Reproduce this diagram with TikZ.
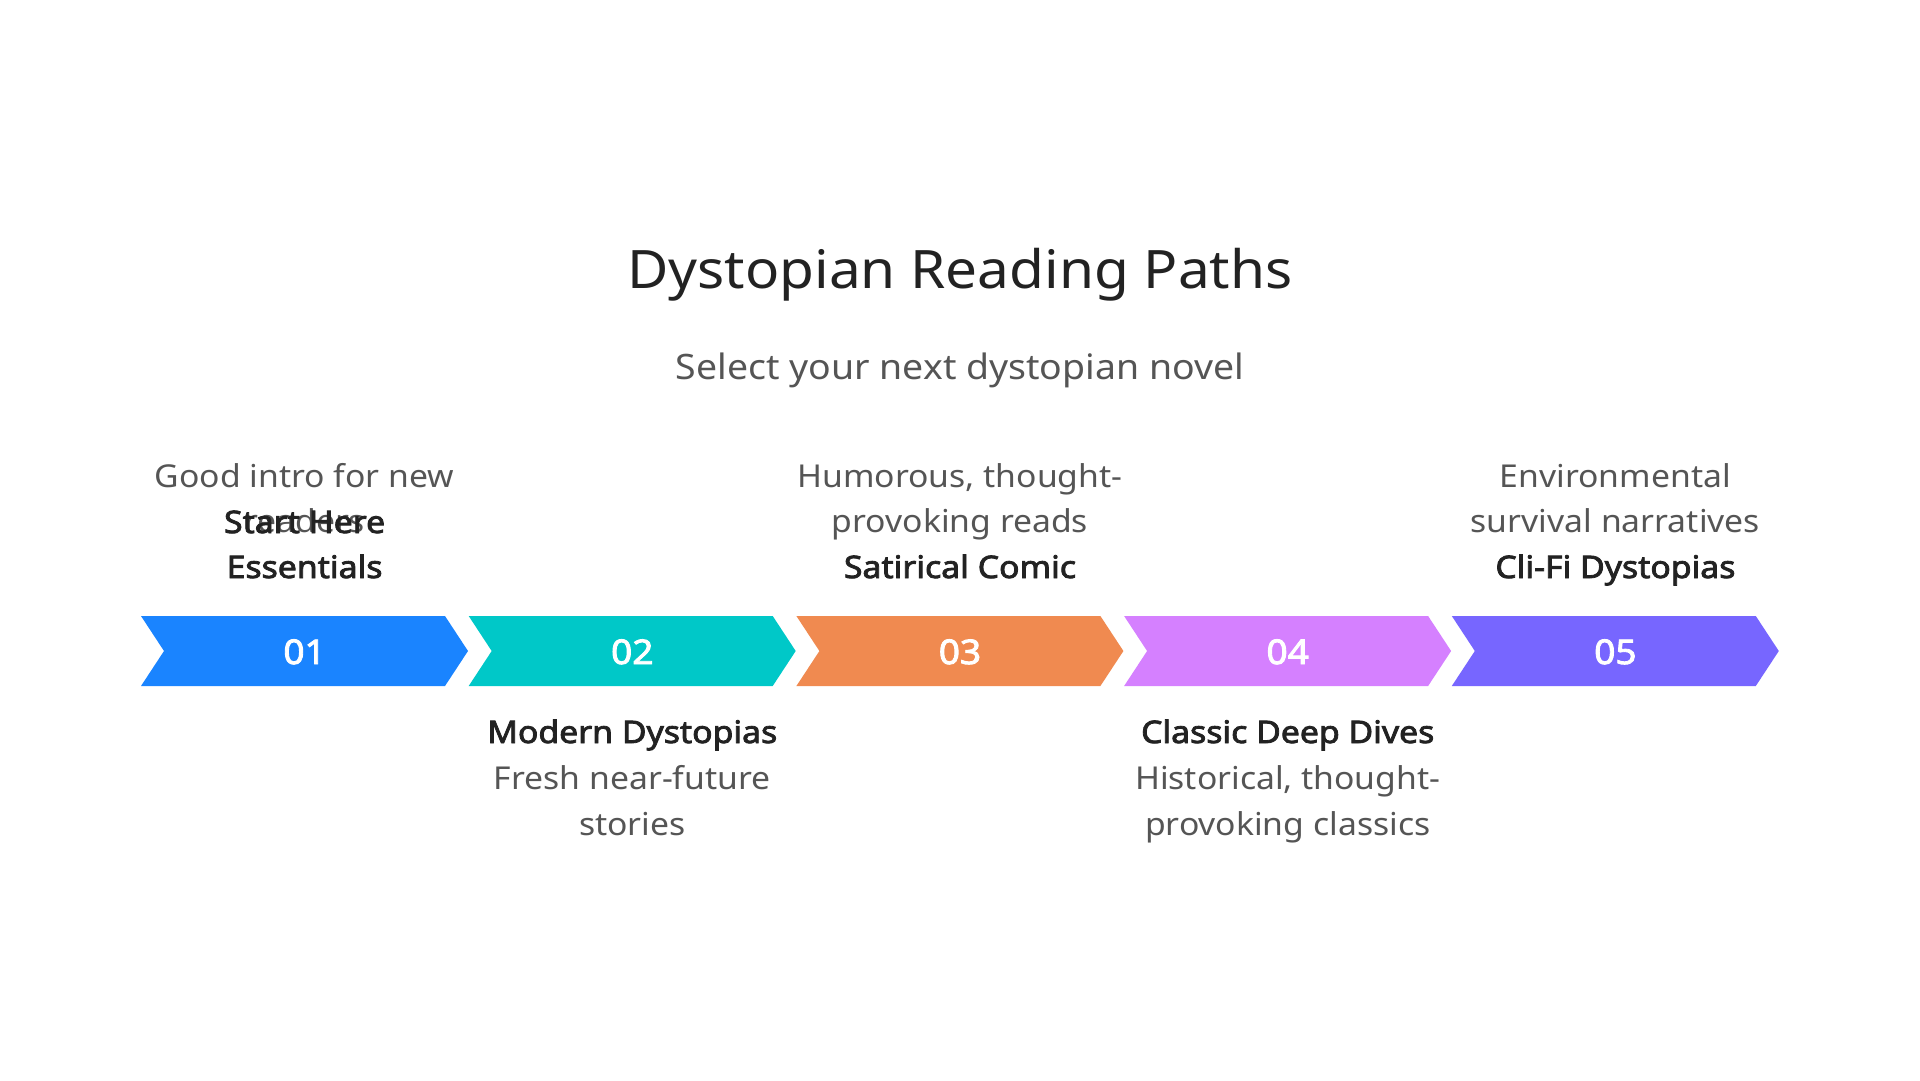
\documentclass[tikz,border=0pt]{standalone}
\usepackage{fontspec}
\setmainfont{Noto Sans}[FakeStretch=1.07]
\newfontfamily\boldface{Noto Sans}[FakeBold=2.6, FakeStretch=1.09]
\definecolor{cA}{HTML}{1A84FF}
\definecolor{cB}{HTML}{00C8C8}
\definecolor{cC}{HTML}{F08A50}
\definecolor{cD}{HTML}{D580FF}
\definecolor{cE}{HTML}{7766FF}
\definecolor{ink}{HTML}{222222}
\definecolor{soft}{HTML}{555555}
\begin{document}
\begin{tikzpicture}[x=1pt,y=-1pt,
  titletext/.style={anchor=base, inner sep=0, text=ink, font=\fontsize{53}{60}\selectfont},
  subtext/.style={anchor=base, inner sep=0, text=soft, font=\fontsize{35}{40}\selectfont},
  desc/.style={anchor=base, inner sep=0, text=soft, font=\fontsize{31.5}{40}\selectfont},
  head/.style={anchor=base, inner sep=0, text=ink, font=\boldface\fontsize{31}{40}\selectfont},
  num/.style={anchor=base, inner sep=0, text=white, font=\boldface\fontsize{34}{40}\selectfont},
  chev/.style={fill=#1, draw=none}
]
\useasboundingbox (0,0) rectangle (1920,1080);
\fill[white] (0,0) rectangle (1920,1080);

\node[titletext] (title) at (960,288) {Dystopian Reading Paths};
\node[subtext] (subtitle) at (960,379) {Select your next dystopian novel};

% chevrons
\foreach \i/\c in {0/cA,1/cB,2/cC,3/cD,4/cE}{
  \pgfmathsetmacro{\L}{141+327.7*\i}
  \fill[chev=\c] (\L,616) -- ++(304,0) -- ++(23,35) -- ++(-23,35) -- ++(-304,0) -- ++(23,-35) -- cycle;
}
\node[num] (n1) at (304.6,664) {01};
\node[num] (n2) at (632.3,664) {02};
\node[num] (n3) at (960,664) {03};
\node[num] (n4) at (1287.7,664) {04};
\node[num] (n5) at (1615.4,664) {05};

% item 1 (top)
\node[desc] (d1a) at (304.6,487) {Good intro for new};
\node[desc] (d1b) at (304.6,532) {readers};
\node[head] (h1a) at (304.6,533) {Start Here};
\node[head] (h1b) at (304.6,578) {Essentials};

% item 2 (bottom)
\node[head] (h2) at (632.3,743) {Modern Dystopias};
\node[desc] (d2a) at (632.3,789) {Fresh near-future};
\node[desc] (d2b) at (632.3,835) {stories};

% item 3 (top)
\node[desc] (d3a) at (960,487) {Humorous, thought-};
\node[desc] (d3b) at (960,532) {provoking reads};
\node[head] (h3) at (960,578) {Satirical Comic};

% item 4 (bottom)
\node[head] (h4) at (1287.7,743) {Classic Deep Dives};
\node[desc] (d4a) at (1287.7,789) {Historical, thought-};
\node[desc] (d4b) at (1287.7,835) {provoking classics};

% item 5 (top)
\node[desc] (d5a) at (1615.4,487) {Environmental};
\node[desc] (d5b) at (1615.4,532) {survival narratives};
\node[head] (h5) at (1615.4,578) {Cli-Fi Dystopias};
\end{tikzpicture}
\end{document}
